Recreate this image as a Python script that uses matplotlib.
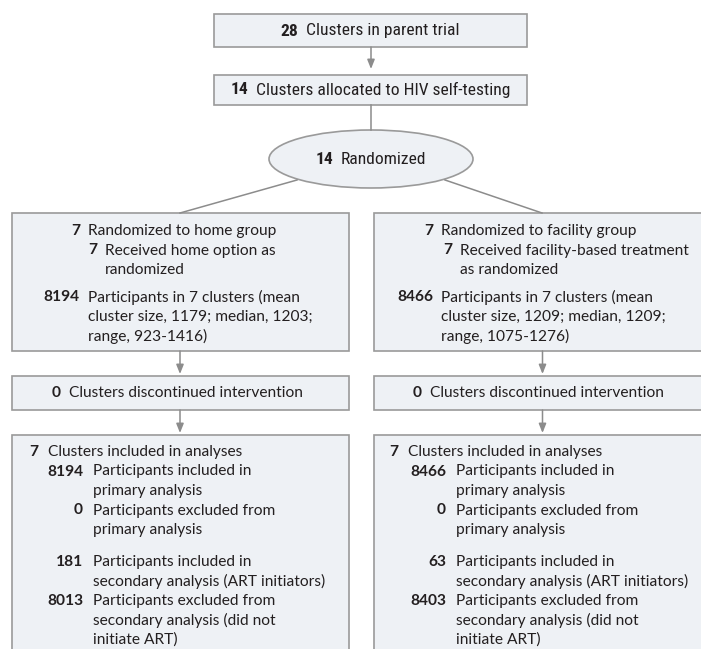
import matplotlib
matplotlib.use('Agg')
import matplotlib.pyplot as plt
from matplotlib import font_manager
from matplotlib.patches import Rectangle, Ellipse

# ---- data ----
parent_clusters = 28
allocated_clusters = 14
randomized_clusters = 14

group_names = ['home', 'facility']
randomized_n = [7, 7]
received_n = [7, 7]
received_text = [['Received home option as', 'randomized'],
                 ['Received facility-based treatment', 'as randomized']]
participants_n = [8194, 8466]
mean_size = [1179, 1209]
median_size = [1203, 1209]
range_lo = [923, 1075]
range_hi = [1416, 1276]
discontinued_n = [0, 0]
analysed_clusters = [7, 7]
primary_incl = [8194, 8466]
primary_excl = [0, 0]
secondary_incl = [181, 63]
secondary_excl = [8013, 8403]

# ---- fonts ----
have = {f.name for f in font_manager.fontManager.ttflist}
def pick(*opts):
    for o in opts:
        if o in have:
            return o
    return 'DejaVu Sans'
body = pick('Lato', 'Open Sans', 'Noto Sans')
narrow = pick('Liberation Sans Narrow', 'Roboto Condensed', 'Lato')

fill = '#eef1f5'
edge = '#9a9a9a'
arrow_c = '#8c8c8c'
txt_c = '#231f20'
fs = 11.2
fs_top = 12.6

fig = plt.figure(figsize=(7.01, 6.49), dpi=100)
ax = fig.add_axes([0, 0, 1, 1])
ax.set_xlim(0, 701)
ax.set_ylim(649, 0)
ax.axis('off')


def box(x0, y0, x1, y1):
    ax.add_patch(Rectangle((x0, y0), x1 - x0, y1 - y0, fc=fill, ec=edge, lw=1.2))


def arrow(x, y0, y1):
    ax.annotate('', xy=(x, y1), xytext=(x, y0),
                arrowprops=dict(arrowstyle='-|>,head_length=0.55,head_width=0.22',
                                color=arrow_c, lw=1.1, shrinkA=0, shrinkB=0))


def line(x0, y0, x1, y1):
    ax.plot([x0, x1], [y0, y1], color=arrow_c, lw=1.1)


def row(nx, y, num, text, family=body, size=fs, gap=8):
    if num is not None:
        ax.text(nx, y, str(num), ha='right', va='center', fontsize=size,
                family=family, weight='bold', color=txt_c)
    ax.text(nx + gap, y, text, ha='left', va='center', fontsize=size,
            family=family, color=txt_c)


# top boxes
box(214, 14, 527, 47)
row(298, 31, parent_clusters, 'Clusters in parent trial', narrow, fs_top)
arrow(371, 47, 69)
box(214, 75, 527, 105)
row(248, 90, allocated_clusters, 'Clusters allocated to HIV self-testing', narrow, fs_top)
line(371, 105, 371, 130)
ax.add_patch(Ellipse((371, 159), 204, 58, fc=fill, ec=edge, lw=1.2))
row(333, 159, randomized_clusters, 'Randomized', narrow, fs_top)
line(297, 180, 180, 213)
line(445, 180, 542, 213)

# two arms
cols = [dict(x0=12, cx=180, main=80, sub=97, d=61, a=38, b=83),
        dict(x0=374, cx=542.5, main=433, sub=452, d=422, a=398, b=446)]

for i, c in enumerate(cols):
    x0, x1 = c['x0'], c['x0'] + 337
    box(x0, 213, x1, 351)
    row(c['main'], 231, randomized_n[i], 'Randomized to %s group' % group_names[i])
    row(c['sub'], 250.5, received_n[i], received_text[i][0])
    row(c['sub'], 270, None, received_text[i][1])
    row(c['main'], 297, participants_n[i], 'Participants in %d clusters (mean' % randomized_n[i])
    row(c['main'], 316.5, None, 'cluster size, %d; median, %d;' % (mean_size[i], median_size[i]))
    row(c['main'], 336, None, 'range, %d-%d)' % (range_lo[i], range_hi[i]))

    arrow(c['cx'], 351, 374)
    box(x0, 376, x1, 410)
    row(c['d'], 393, discontinued_n[i], 'Clusters discontinued intervention')

    arrow(c['cx'], 410, 433)
    box(x0, 435, x1, 680)
    row(c['a'], 452, analysed_clusters[i], 'Clusters included in analyses', gap=10)
    row(c['b'], 471.5, primary_incl[i], 'Participants included in', gap=10)
    row(c['b'], 491, None, 'primary analysis', gap=10)
    row(c['b'], 510.5, primary_excl[i], 'Participants excluded from', gap=10)
    row(c['b'], 530, None, 'primary analysis', gap=10)
    row(c['b'], 562, secondary_incl[i], 'Participants included in', gap=10)
    row(c['b'], 581.5, None, 'secondary analysis (ART initiators)', gap=10)
    row(c['b'], 601, secondary_excl[i], 'Participants excluded from', gap=10)
    row(c['b'], 620.5, None, 'secondary analysis (did not', gap=10)
    row(c['b'], 640, None, 'initiate ART)', gap=10)

fig.savefig('out.png', dpi=100)
